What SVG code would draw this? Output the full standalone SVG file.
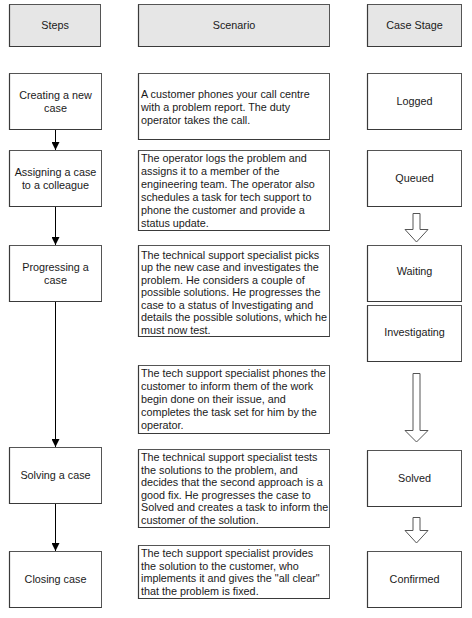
<svg xmlns="http://www.w3.org/2000/svg" width="472" height="618" viewBox="0 0 472 618">
<style>
  .hdr { fill: #e6e6e6; stroke: #555555; stroke-width: 1; }
  .box { fill: #ffffff; stroke: #555555; stroke-width: 1; }
  .sh { fill: none; stroke: #3a3a3a; stroke-width: 1.2; }
  text { font-family: "Liberation Sans", Arial, sans-serif; font-size: 10.8px; fill: #1a1a1a; }
  .c { text-anchor: middle; }
  .conn { stroke: #000000; stroke-width: 1; fill: none; }
  .blk { fill: #ffffff; stroke: #555555; stroke-width: 1; }
</style>
<defs>
  <marker id="ah" viewBox="0 0 8 8" refX="8" refY="4" markerWidth="8" markerHeight="8" markerUnits="userSpaceOnUse" orient="auto">
    <path d="M0,0 L8,4 L0,8 Z" fill="#000000"/>
  </marker>
</defs>
<rect width="472" height="618" fill="#ffffff"/>

<g id="hdr-steps">
  <rect class="hdr" x="9.5" y="4.5" width="91" height="42"/>
  <path class="sh" d="M9.5,4.5 V46.5 H100.5"/>
  <text class="c" x="55" y="29">Steps</text>
</g>
<g id="hdr-scenario">
  <rect class="hdr" x="138.5" y="4.5" width="191" height="42"/>
  <path class="sh" d="M138.5,4.5 V46.5 H329.5"/>
  <text class="c" x="234" y="29">Scenario</text>
</g>
<g id="hdr-stage">
  <rect class="hdr" x="367.5" y="4.5" width="94" height="42"/>
  <path class="sh" d="M367.5,4.5 V46.5 H461.5"/>
  <text class="c" x="414.5" y="29">Case Stage</text>
</g>

<!-- Steps -->
<g id="step-create">
  <rect class="box" x="9.5" y="73.5" width="92" height="56"/>
  <path class="sh" d="M9.5,73.5 V129.5 H101.5"/>
  <text class="c" x="55.5" y="98.5">Creating a new</text>
  <text class="c" x="55.5" y="111.5">case</text>
</g>
<g id="step-assign">
  <rect class="box" x="9.5" y="150.5" width="92" height="56"/>
  <path class="sh" d="M9.5,150.5 V206.5 H101.5"/>
  <text class="c" x="55.5" y="176">Assigning a case</text>
  <text class="c" x="55.5" y="189">to a colleague</text>
</g>
<g id="step-progress">
  <rect class="box" x="9.5" y="245.5" width="92" height="56"/>
  <path class="sh" d="M9.5,245.5 V301.5 H101.5"/>
  <text class="c" x="55.5" y="271">Progressing a</text>
  <text class="c" x="55.5" y="284">case</text>
</g>
<g id="step-solve">
  <rect class="box" x="9.5" y="447.5" width="92" height="56"/>
  <path class="sh" d="M9.5,447.5 V503.5 H101.5"/>
  <text class="c" x="55.5" y="479">Solving a case</text>
</g>
<g id="step-close">
  <rect class="box" x="9.5" y="551.5" width="92" height="56"/>
  <path class="sh" d="M9.5,551.5 V607.5 H101.5"/>
  <text class="c" x="55.5" y="583">Closing case</text>
</g>

<!-- Scenarios -->
<g id="scn-1">
  <rect class="box" x="138.5" y="73.5" width="191" height="66"/>
  <path class="sh" d="M138.5,73.5 V139.5 H329.5"/>
  <text x="141" y="97.5">A customer phones your call centre</text>
  <text x="141" y="110.5">with a problem report. The duty</text>
  <text x="141" y="123.5">operator takes the call.</text>
</g>
<g id="scn-2">
  <rect class="box" x="138.5" y="150.5" width="191" height="80"/>
  <path class="sh" d="M138.5,150.5 V230.5 H329.5"/>
  <text x="141" y="162">The operator logs the problem and</text>
  <text x="141" y="175">assigns it to a member of the</text>
  <text x="141" y="188">engineering team. The operator also</text>
  <text x="141" y="201">schedules a task for tech support to</text>
  <text x="141" y="214">phone the customer and provide a</text>
  <text x="141" y="227">status update.</text>
</g>
<g id="scn-3">
  <rect class="box" x="138.5" y="245.5" width="191" height="91"/>
  <path class="sh" d="M138.5,245.5 V336.5 H329.5"/>
  <text x="141" y="258.5">The technical support specialist picks</text>
  <text x="141" y="271">up the new case and investigates the</text>
  <text x="141" y="283.5">problem. He considers a couple of</text>
  <text x="141" y="296">possible solutions. He progresses the</text>
  <text x="141" y="308.5">case to a status of Investigating and</text>
  <text x="141" y="321">details the possible solutions, which he</text>
  <text x="141" y="333.5">must now test.</text>
</g>
<g id="scn-4">
  <rect class="box" x="138.5" y="365.5" width="191" height="68"/>
  <path class="sh" d="M138.5,365.5 V433.5 H329.5"/>
  <text x="141" y="377">The tech support specialist phones the</text>
  <text x="141" y="390">customer to inform them of the work</text>
  <text x="141" y="403">begin done on their issue, and</text>
  <text x="141" y="416">completes the task set for him by the</text>
  <text x="141" y="429">operator.</text>
</g>
<g id="scn-5">
  <rect class="box" x="138.5" y="449.5" width="191" height="78"/>
  <path class="sh" d="M138.5,449.5 V527.5 H329.5"/>
  <text x="141" y="461">The technical support specialist tests</text>
  <text x="141" y="473.5">the solutions to the problem, and</text>
  <text x="141" y="486">decides that the second approach is a</text>
  <text x="141" y="498.5">good fix. He progresses the case to</text>
  <text x="141" y="511">Solved and creates a task to inform the</text>
  <text x="141" y="523.5">customer of the solution.</text>
</g>
<g id="scn-6">
  <rect class="box" x="138.5" y="545.5" width="191" height="53"/>
  <path class="sh" d="M138.5,545.5 V598.5 H329.5"/>
  <text x="141" y="557">The tech support specialist provides</text>
  <text x="141" y="569.5">the solution to the customer, who</text>
  <text x="141" y="582">implements it and gives the "all clear"</text>
  <text x="141" y="594.5">that the problem is fixed.</text>
</g>

<!-- Case stages -->
<g id="stage-logged">
  <rect class="box" x="367.5" y="73.5" width="94" height="56"/>
  <path class="sh" d="M367.5,73.5 V129.5 H461.5"/>
  <text class="c" x="414.5" y="105">Logged</text>
</g>
<g id="stage-queued">
  <rect class="box" x="367.5" y="150.5" width="94" height="56"/>
  <path class="sh" d="M367.5,150.5 V206.5 H461.5"/>
  <text class="c" x="414.5" y="182">Queued</text>
</g>
<g id="stage-waiting">
  <rect class="box" x="367.5" y="245.5" width="94" height="56"/>
  <path class="sh" d="M367.5,245.5 V301.5 H461.5"/>
  <text class="c" x="414.5" y="275">Waiting</text>
</g>
<g id="stage-investigating">
  <rect class="box" x="367.5" y="305.5" width="94" height="56"/>
  <path class="sh" d="M367.5,305.5 V361.5 H461.5"/>
  <text class="c" x="414.5" y="336">Investigating</text>
</g>
<g id="stage-solved">
  <rect class="box" x="367.5" y="450.5" width="94" height="56"/>
  <path class="sh" d="M367.5,450.5 V506.5 H461.5"/>
  <text class="c" x="414.5" y="482">Solved</text>
</g>
<g id="stage-confirmed">
  <rect class="box" x="367.5" y="551.5" width="94" height="56"/>
  <path class="sh" d="M367.5,551.5 V607.5 H461.5"/>
  <text class="c" x="414.5" y="583">Confirmed</text>
</g>

<!-- Connectors -->
<g id="connectors">
  <line class="conn" x1="55.5" y1="130" x2="55.5" y2="150" marker-end="url(#ah)"/>
  <line class="conn" x1="55.5" y1="207" x2="55.5" y2="245" marker-end="url(#ah)"/>
  <line class="conn" x1="55.5" y1="302" x2="55.5" y2="447" marker-end="url(#ah)"/>
  <line class="conn" x1="55.5" y1="504" x2="55.5" y2="551" marker-end="url(#ah)"/>
  <path class="blk" d="M413,213.5 H420 V229.5 H428 L416.5,242 L405,229.5 H413 Z"/>
  <path class="blk" d="M413,373.5 H420 V430.5 H428 L416.5,442 L405,430.5 H413 Z"/>
  <path class="blk" d="M413,517.5 H420 V530.5 H428 L416.5,543 L405,530.5 H413 Z"/>
</g>
</svg>
